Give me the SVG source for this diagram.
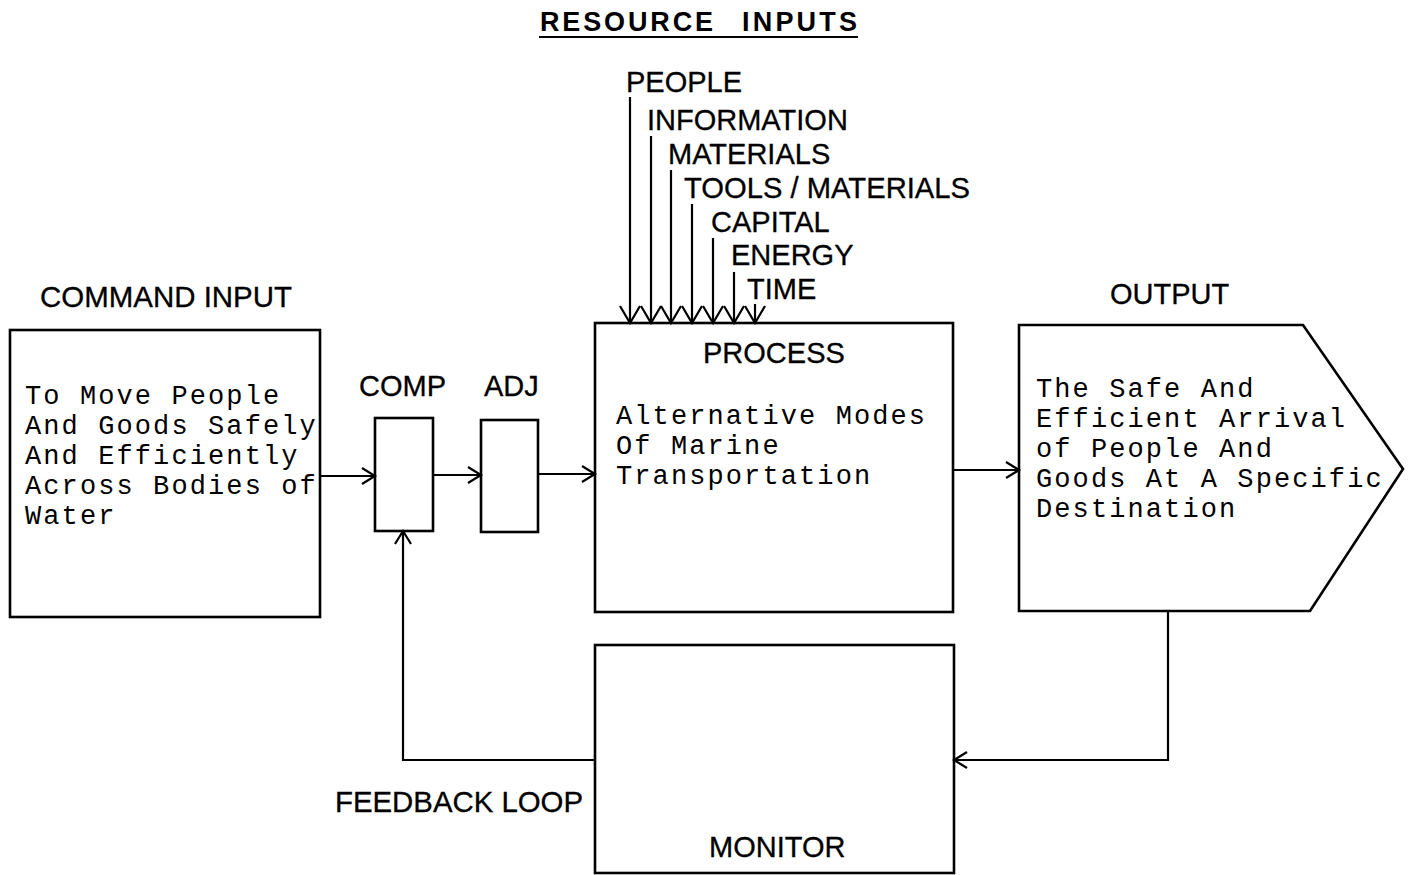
<svg xmlns="http://www.w3.org/2000/svg" width="1408" height="875" viewBox="0 0 1408 875">
<style>
.box{fill:none;stroke:#000;stroke-width:2.6}
.con{fill:none;stroke:#000;stroke-width:2.2}
.lbl{font-family:"Liberation Sans",Arial,sans-serif;font-size:29px;fill:#000;stroke:#000;stroke-width:0.3}
.mono{font-family:"Liberation Mono","Courier New",monospace;font-size:27px;letter-spacing:2.1px;fill:#000}
.title{font-family:"Liberation Sans",Arial,sans-serif;font-size:27px;font-weight:bold;fill:#000}
</style>
<defs>
<marker id="arr" markerUnits="userSpaceOnUse" markerWidth="16" markerHeight="20" refX="13" refY="9" orient="auto" overflow="visible">
<path d="M0,1 L13,9 L0,17" fill="none" stroke="#000" stroke-width="2.2"/>
</marker>
<marker id="arrR" markerUnits="userSpaceOnUse" markerWidth="20" markerHeight="22" refX="17" refY="10" orient="auto" overflow="visible">
<path d="M0,0 L17,10 L0,20" fill="none" stroke="#000" stroke-width="2.2"/>
</marker>
</defs>
<rect width="1408" height="875" fill="#fff"/>

<g id="title">
<text class="title" x="540" y="31" textLength="173" lengthAdjust="spacing">RESOURCE</text>
<text class="title" x="742" y="31" textLength="115" lengthAdjust="spacing">INPUTS</text>
<line x1="539" y1="37" x2="858" y2="37" stroke="#000" stroke-width="2.2"/>
</g>

<g id="resource-labels">
<text class="lbl" x="626" y="92">PEOPLE</text>
<text class="lbl" x="647" y="130">INFORMATION</text>
<text class="lbl" x="668" y="164">MATERIALS</text>
<text class="lbl" x="684" y="198" textLength="286" lengthAdjust="spacingAndGlyphs">TOOLS / MATERIALS</text>
<text class="lbl" x="711" y="232">CAPITAL</text>
<text class="lbl" x="731" y="265">ENERGY</text>
<text class="lbl" x="747" y="299">TIME</text>
</g>

<g id="command">
<text class="lbl" x="40" y="307" textLength="252" lengthAdjust="spacingAndGlyphs">COMMAND INPUT</text>
<rect class="box" x="10" y="330" width="310" height="287"/>
<text class="mono" x="25" y="404">To Move People</text>
<text class="mono" x="25" y="434">And Goods Safely</text>
<text class="mono" x="25" y="464">And Efficiently</text>
<text class="mono" x="25" y="494">Across Bodies of</text>
<text class="mono" x="25" y="524">Water</text>
</g>

<g id="comp">
<text class="lbl" x="359" y="396">COMP</text>
<rect class="box" x="375" y="418" width="58" height="113"/>
</g>

<g id="adj">
<text class="lbl" x="484" y="396">ADJ</text>
<rect class="box" x="481" y="420" width="57" height="112"/>
</g>

<g id="process">
<rect class="box" x="595" y="323" width="358" height="289"/>
<text class="lbl" x="703" y="363">PROCESS</text>
<text class="mono" x="616" y="424">Alternative Modes</text>
<text class="mono" x="616" y="454">Of Marine</text>
<text class="mono" x="616" y="484">Transportation</text>
</g>

<g id="output">
<text class="lbl" x="1110" y="304">OUTPUT</text>
<polygon class="box" points="1019,325 1303,325 1403,469 1310,611 1019,611"/>
<text class="mono" x="1036" y="397">The Safe And</text>
<text class="mono" x="1036" y="427">Efficient Arrival</text>
<text class="mono" x="1036" y="457">of People And</text>
<text class="mono" x="1036" y="487">Goods At A Specific</text>
<text class="mono" x="1036" y="517">Destination</text>
</g>

<g id="monitor">
<rect class="box" x="595" y="645" width="359" height="228"/>
<text class="lbl" x="709" y="857">MONITOR</text>
</g>

<g id="feedback-label">
<text class="lbl" x="335" y="812" textLength="248" lengthAdjust="spacingAndGlyphs">FEEDBACK LOOP</text>
</g>

<g id="connectors">
<line class="con" x1="630" y1="97" x2="630" y2="323" marker-end="url(#arrR)"/>
<line class="con" x1="651" y1="136" x2="651" y2="323" marker-end="url(#arrR)"/>
<line class="con" x1="671" y1="170" x2="671" y2="323" marker-end="url(#arrR)"/>
<line class="con" x1="692" y1="204" x2="692" y2="323" marker-end="url(#arrR)"/>
<line class="con" x1="713" y1="238" x2="713" y2="323" marker-end="url(#arrR)"/>
<line class="con" x1="734" y1="272" x2="734" y2="323" marker-end="url(#arrR)"/>
<line class="con" x1="755" y1="304" x2="755" y2="323" marker-end="url(#arrR)"/>
<line class="con" x1="320" y1="476" x2="375" y2="476" marker-end="url(#arr)"/>
<line class="con" x1="433" y1="475" x2="481" y2="475" marker-end="url(#arr)"/>
<line class="con" x1="538" y1="474" x2="595" y2="474" marker-end="url(#arr)"/>
<line class="con" x1="953" y1="470" x2="1019" y2="470" marker-end="url(#arr)"/>
<polyline class="con" points="1168,611 1168,760 954,760" marker-end="url(#arr)"/>
<polyline class="con" points="595,760 403,760 403,531" marker-end="url(#arr)"/>
</g>
</svg>
